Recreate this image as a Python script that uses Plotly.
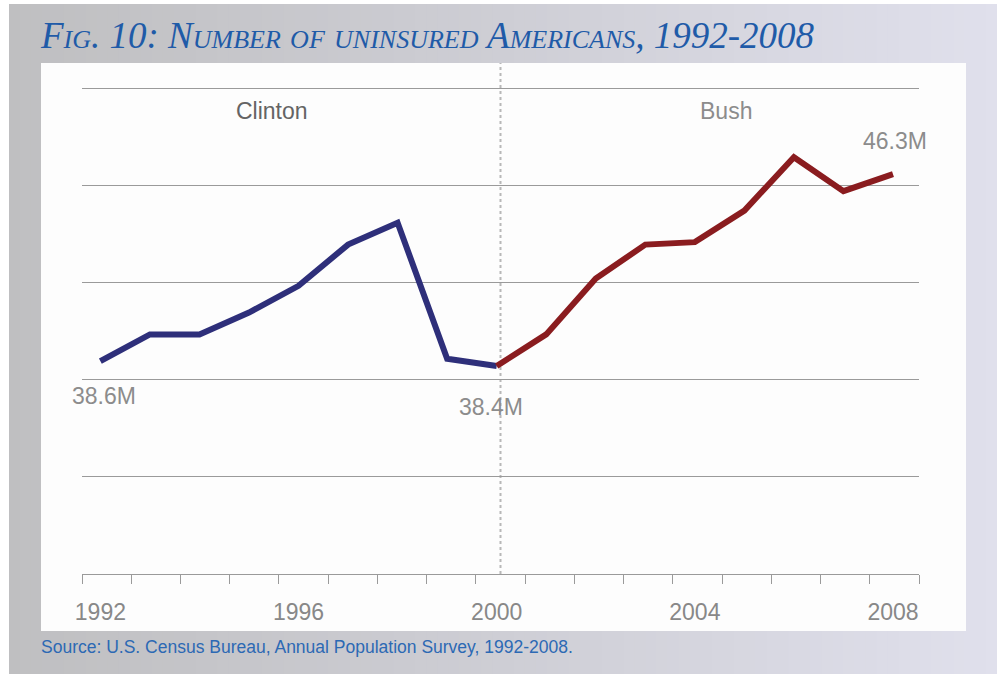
import numpy as np
import plotly.graph_objects as go

# ---- data (millions of uninsured Americans) ----
years = list(range(1992, 2009))
clinton_years = years[:9]
clinton_values = [38.6, 39.7, 39.7, 40.6, 41.7, 43.4, 44.3, 38.7, 38.4]
bush_years = years[8:]
bush_values = [38.4, 39.7, 42.0, 43.4, 43.5, 44.8, 47.0, 45.6, 46.3]
tick_years = [1992, 1996, 2000, 2004, 2008]
tick_text = [str(y) for y in tick_years]
era_names = ["Clinton", "Bush"]

# ---- canvas geometry ----
W, H = 997, 674
ML, MR, MT, MB = 82, 78, 63, 100
PW, PH = W - ML - MR, H - MT - MB


def px(x):
    return (x - ML) / PW


def py(y):
    return (H - MB - y) / PH


X_RANGE = [1991.629, 2008.525]
Y_RANGE = [29.83, 50.88]
boundaries = np.linspace(X_RANGE[0], X_RANGE[1], len(years) + 1)
i2000 = years.index(2000)
divider_x = (boundaries[i2000] + boundaries[i2000 + 1]) / 2

BLUE = "#2e2f7a"
RED = "#8a1c1f"
GRID = "#9a9a9a"
LABEL_GREY = "#8c8c8c"
SANS = "Liberation Sans, Arial, sans-serif"

fig = go.Figure()

fig.add_trace(go.Scatter(
    x=clinton_years, y=clinton_values, mode="lines",
    line=dict(color=BLUE, width=6), showlegend=False, hoverinfo="x+y"))
fig.add_trace(go.Scatter(
    x=bush_years, y=bush_values, mode="lines",
    line=dict(color=RED, width=6), showlegend=False, hoverinfo="x+y"))

shapes = []
# horizontal grey-to-lavender background band
stops = [(0.0, (191, 191, 193)), (0.5, (206, 206, 213)), (1.0, (224, 224, 236))]


def grad(t):
    for (t0, c0), (t1, c1) in zip(stops[:-1], stops[1:]):
        if t <= t1:
            f = (t - t0) / (t1 - t0)
            return tuple(round(a + (b - a) * f) for a, b in zip(c0, c1))
    return stops[-1][1]


n = 90
x0, x1 = 9, W
for k in range(n):
    a = x0 + (x1 - x0) * k / n
    b = x0 + (x1 - x0) * (k + 1) / n + 1
    c = grad((k + 0.5) / n)
    shapes.append(dict(type="rect", xref="paper", yref="paper",
                       x0=px(a), x1=px(min(b, W)), y0=py(H), y1=py(4),
                       fillcolor="rgb(%d,%d,%d)" % c, line=dict(width=0),
                       layer="below"))
# white chart panel
shapes.append(dict(type="rect", xref="paper", yref="paper",
                   x0=px(41), x1=px(966), y0=py(631), y1=py(63),
                   fillcolor="#fdfdfd", line=dict(width=0), layer="below"))
# dotted divider between administrations
shapes.append(dict(type="line", xref="x", yref="paper",
                   x0=divider_x, x1=divider_x, y0=0, y1=1,
                   line=dict(color="#b8b8b8", width=2, dash="dot"),
                   layer="below"))

annotations = [
    dict(text="Fig. 10: Number of uninsured Americans, 1992-2008",
         xref="paper", yref="paper", x=px(38), y=py(36),
         xanchor="left", yanchor="middle", showarrow=False,
         font=dict(family="Liberation Serif, Times New Roman, serif",
                   size=37, color="#1f5ba8", style="italic",
                   variant="small-caps")),
    dict(text="Source: U.S. Census Bureau, Annual Population Survey, 1992-2008.",
         xref="paper", yref="paper", x=px(39), y=py(647),
         xanchor="left", yanchor="middle", showarrow=False,
         font=dict(family=SANS, size=17.5, color="#2c69b4")),
    dict(text=era_names[0], xref="paper", yref="paper",
         x=px(272), y=py(111), xanchor="center", yanchor="middle",
         showarrow=False, font=dict(family=SANS, size=23, color="#646464")),
    dict(text=era_names[1], xref="paper", yref="paper",
         x=px(726), y=py(111), xanchor="center", yanchor="middle",
         showarrow=False, font=dict(family=SANS, size=23, color=LABEL_GREY)),
    dict(text=f"{clinton_values[0]:.1f}M", x=clinton_years[0], y=clinton_values[0],
         xshift=4, yshift=-35, showarrow=False, xanchor="center", yanchor="middle",
         font=dict(family=SANS, size=23, color=LABEL_GREY)),
    dict(text=f"{bush_values[0]:.1f}M", x=bush_years[0], y=bush_values[0],
         xshift=-6, yshift=-41, showarrow=False, xanchor="center", yanchor="middle",
         font=dict(family=SANS, size=23, color=LABEL_GREY)),
    dict(text=f"{bush_values[-1]:.1f}M", x=bush_years[-1], y=bush_values[-1],
         xshift=2, yshift=33, showarrow=False, xanchor="center", yanchor="middle",
         font=dict(family=SANS, size=23, color=LABEL_GREY)),
]

fig.update_layout(
    width=W, height=H,
    margin=dict(l=ML, r=MR, t=MT, b=MB, pad=0),
    paper_bgcolor="white", plot_bgcolor="rgba(0,0,0,0)",
    shapes=shapes, annotations=annotations,
    showlegend=False,
    xaxis=dict(
        range=X_RANGE, showgrid=False, zeroline=False,
        showline=True, linecolor=GRID, linewidth=1,
        tickmode="array", tickvals=tick_years, ticktext=tick_text, ticks="",
        ticklabelstandoff=17,
        tickfont=dict(family=SANS, size=23, color="#888888"),
        minor=dict(tickmode="array", tickvals=list(boundaries), ticks="outside",
                   ticklen=9, tickcolor=GRID, tickwidth=1, showgrid=False),
    ),
    yaxis=dict(
        range=Y_RANGE, tick0=Y_RANGE[0], dtick=4, showgrid=True,
        gridcolor=GRID, gridwidth=1, zeroline=False, showline=False,
        showticklabels=False, ticks="",
    ),
)

fig.write_html("out.html")
